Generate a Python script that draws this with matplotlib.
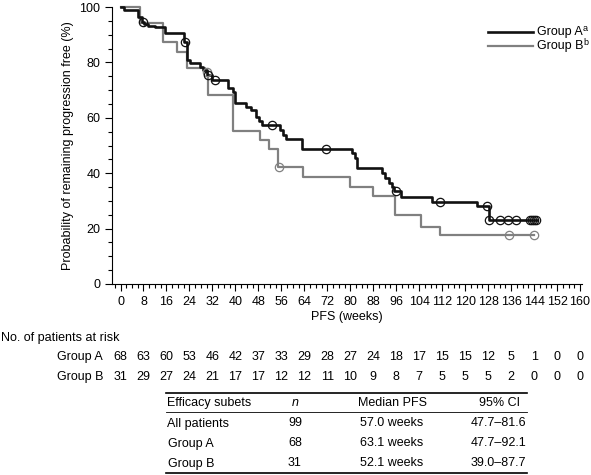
import numpy as np
import matplotlib.pyplot as plt
from matplotlib.lines import Line2D
from matplotlib.ticker import MultipleLocator

plt.rcParams['font.family'] = ['Liberation Sans', 'DejaVu Sans']

# Kaplan-Meier steps (time in weeks, survival after step in %)
a_time = [0, 1.2, 6.2, 7.5, 8.3, 9.7, 12, 15.5, 22, 23, 24.2, 27.6, 28.8, 30, 32,
          37.5, 39.2, 39.8, 43.8, 45.6, 47.2, 48.3, 49.2, 55.6, 56.7, 57.6, 63.1,
          80.7, 81.5, 82.3, 91, 92.2, 93.4, 94.5, 95.3, 97.8, 108.4, 124.1, 128.3, 145]
a_surv = [100, 98.9, 96.5, 94.5, 93.9, 93.1, 92.6, 90.5, 87.5, 80.9, 79.7, 78.5, 77.3, 75.5, 73.5,
          70.6, 69.2, 65.4, 64, 62.8, 60.4, 59, 57.4, 55.6, 53.8, 52.2, 48.6,
          47.2, 45.4, 41.8, 40, 38.2, 36.6, 35.1, 33.4, 31.3, 29.6, 28.2, 23.1, 23.1]
a_cens_t = [7.7, 22.3, 30.6, 32.9, 52.9, 71.6, 95.8, 111.2, 127.7, 128.3, 132.1, 135, 137.7,
            142.6, 143.3, 144, 144.6]
a_cens_s = [94.5, 87.5, 75.5, 73.5, 57.4, 48.6, 33.4, 29.6, 28.2, 23.1, 23.1, 23.1, 23.1,
            23.1, 23.1, 23.1, 23.1]

b_time = [0, 6.8, 14.9, 19.6, 23, 29.4, 30.5, 39, 48.6, 51.8, 54.9, 63.6, 79.9, 88,
          95.6, 104.5, 111.2, 144]
b_surv = [100, 94.1, 87.5, 83.9, 77.9, 76.7, 68.2, 55.3, 52, 48.6, 42.3, 38.7, 35.1, 31.8,
          24.9, 20.7, 17.7, 17.7]
b_cens_t = [30.2, 55.2, 135.4, 144]
b_cens_s = [76.7, 42.3, 17.7, 17.7]

risk_weeks = list(range(0, 161, 8))
risk_a = [68, 63, 60, 53, 46, 42, 37, 33, 29, 28, 27, 24, 18, 17, 15, 15, 12, 5, 1, 0, 0]
risk_b = [31, 29, 27, 24, 21, 17, 17, 12, 12, 11, 10, 9, 8, 7, 5, 5, 5, 2, 0, 0, 0]

legend_names = ['Group A', 'Group B']
legend_sups = ['a', 'b']

tbl_header = ['Efficacy subets', 'n', 'Median PFS', '95% CI']
tbl_rows = [['All patients', '99', '57.0 weeks', '47.7\u201381.6'],
            ['Group A', '68', '63.1 weeks', '47.7\u201392.1'],
            ['Group B', '31', '52.1 weeks', '39.0\u201387.7']]

W, H = 591, 475
black = '#111111'
grey = '#808080'


def fx(px):
    return px / W


def fy(py):
    return 1 - py / H


fig = plt.figure(figsize=(W / 100, H / 100), dpi=100)
ax = fig.add_axes([fx(112), fy(284), fx(582) - fx(112), fy(7) - fy(284)])

ax.step(b_time, b_surv, where='post', color=grey, lw=1.6, clip_on=False)
ax.step(a_time, a_surv, where='post', color=black, lw=1.9, clip_on=False)
ax.plot(b_cens_t, b_cens_s, 'o', mfc='none', mec=grey, ms=6, mew=0.9, clip_on=False)
ax.plot(a_cens_t, a_cens_s, 'o', mfc='none', mec=black, ms=6, mew=0.9, clip_on=False)

x0 = (112 - 120.5) / 2.872
x1 = (582 - 120.5) / 2.872
ax.set_xlim(x0, x1)
ax.set_ylim(0, 100)
ax.spines['top'].set_visible(False)
ax.spines['right'].set_visible(False)
ax.xaxis.set_major_locator(MultipleLocator(8))
ax.xaxis.set_minor_locator(MultipleLocator(2))
ax.yaxis.set_major_locator(MultipleLocator(20))
ax.yaxis.set_minor_locator(MultipleLocator(5))
ax.tick_params(which='major', length=5, width=0.8, labelsize=9, direction='out')
ax.tick_params(which='minor', length=3, width=0.8, direction='out')
ax.set_xlabel('PFS (weeks)', fontsize=9, labelpad=2)
ax.set_ylabel('Probability of remaining progression free (%)', fontsize=9, labelpad=4)

# legend drawn by hand to keep it compact
fig.canvas.draw()
for name, sup, col, lw, py in [(legend_names[0], legend_sups[0], black, 1.9, 32),
                               (legend_names[1], legend_sups[1], grey, 1.6, 46)]:
    fig.add_artist(Line2D([fx(488), fx(533)], [fy(py), fy(py)], color=col, lw=lw))
    t = fig.text(fx(537), fy(py), name, fontsize=9, va='center', ha='left')
    bb = t.get_window_extent(renderer=fig.canvas.get_renderer())
    fig.text((bb.x1 + 0.3) / W, fy(py - 3.5), sup, fontsize=6.5, va='center', ha='left')

# patients at risk
fig.text(fx(1), fy(338), 'No. of patients at risk', fontsize=9, va='center')
for row, vals, py in [('Group A', risk_a, 357), ('Group B', risk_b, 377)]:
    fig.text(fx(103), fy(py), row, fontsize=9, va='center', ha='right')
    for wk, v in zip(risk_weeks, vals):
        fig.text(fx(120.5 + wk * 2.872), fy(py), str(v), fontsize=9,
                 va='center', ha='center')

# efficacy table
tl, tr = 166, 527
fig.add_artist(Line2D([fx(tl), fx(tr)], [fy(393), fy(393)], color='black', lw=1.2))
fig.add_artist(Line2D([fx(tl), fx(tr)], [fy(412), fy(412)], color='black', lw=0.6))
fig.add_artist(Line2D([fx(tl), fx(tr)], [fy(473), fy(473)], color='black', lw=1.2))

col_x = [167, 295, 392, 526]
col_ha = ['left', 'center', 'center', 'right']
for j, txt in enumerate(tbl_header):
    style = 'italic' if txt == 'n' else 'normal'
    xx = 520 if j == 3 else col_x[j]
    fig.text(fx(xx), fy(403), txt, fontsize=9, va='center', ha=col_ha[j], style=style)
for i, r in enumerate(tbl_rows):
    py = 423.5 + i * 20
    for j, txt in enumerate(r):
        xx = col_x[j] + (1.5 if (j == 0 and i > 0) else 0)
        fig.text(fx(xx), fy(py), txt, fontsize=9, va='center', ha=col_ha[j])

plt.savefig('out.png', dpi=100)
plt.close()
